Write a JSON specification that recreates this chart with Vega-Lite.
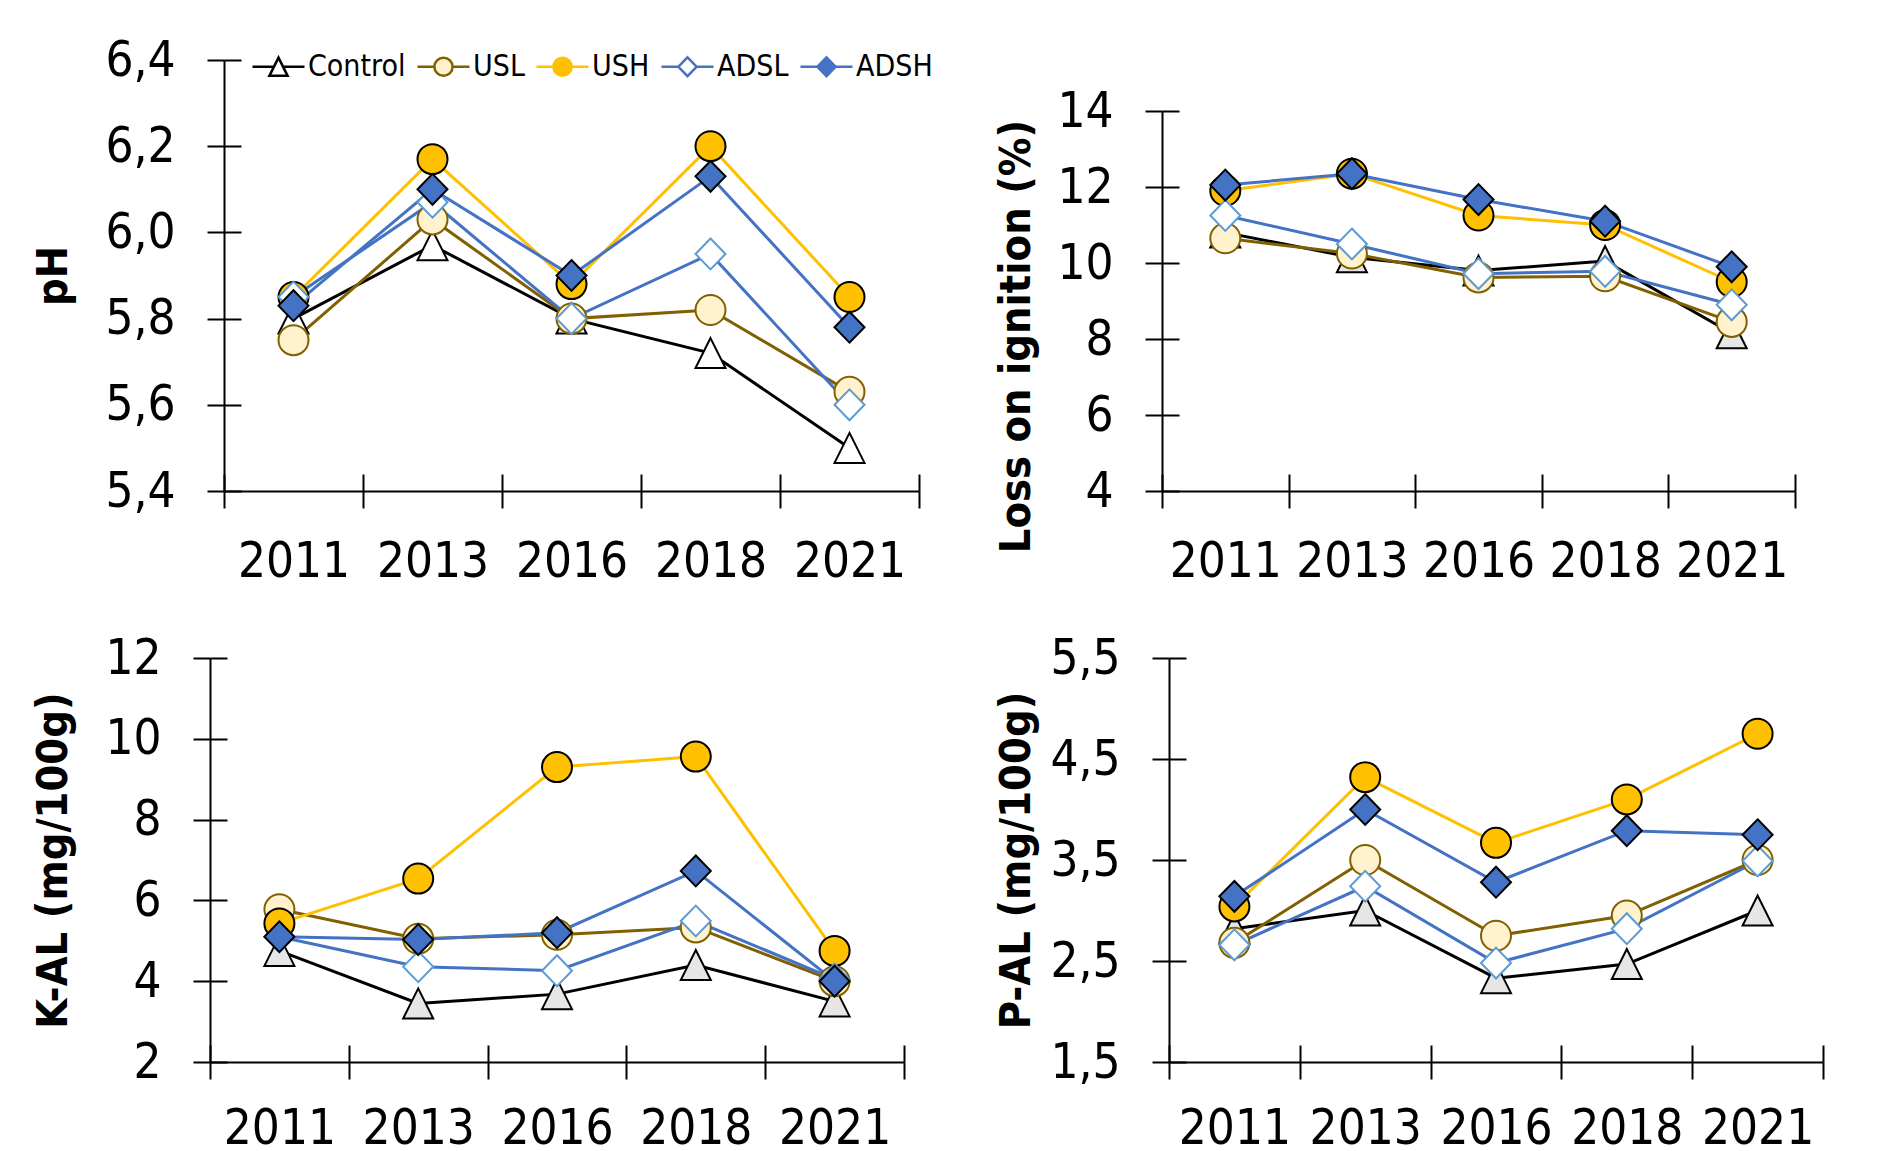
{
  "$schema": "https://vega.github.io/schema/vega-lite/v6.json",
  "background": "white",
  "padding": {"left": 32, "top": 36, "right": 5, "bottom": 5},
  "config": {
    "view": {"stroke": null},
    "axis": {"grid": false, "domainColor": "#000000", "domainWidth": 2, "tickColor": "#000000", "tickWidth": 2, "labelColor": "#000000", "labelFont": "DejaVu Sans Condensed, sans-serif", "labelFontSize": 49, "titleFont": "DejaVu Sans Condensed, DejaVu Sans", "titleFontSize": 43, "titleFontWeight": "bold", "titleColor": "#000000"}
  },
  "data": {"values": [
    {"p":"pH","year":"2011","s":"Control","v":5.80},{"p":"pH","year":"2013","s":"Control","v":5.97},{"p":"pH","year":"2016","s":"Control","v":5.80},{"p":"pH","year":"2018","s":"Control","v":5.72},{"p":"pH","year":"2021","s":"Control","v":5.50},
    {"p":"pH","year":"2011","s":"USL","v":5.75},{"p":"pH","year":"2013","s":"USL","v":6.03},{"p":"pH","year":"2016","s":"USL","v":5.80},{"p":"pH","year":"2018","s":"USL","v":5.82},{"p":"pH","year":"2021","s":"USL","v":5.63},
    {"p":"pH","year":"2011","s":"USH","v":5.85},{"p":"pH","year":"2013","s":"USH","v":6.17},{"p":"pH","year":"2016","s":"USH","v":5.88},{"p":"pH","year":"2018","s":"USH","v":6.20},{"p":"pH","year":"2021","s":"USH","v":5.85},
    {"p":"pH","year":"2011","s":"ADSL","v":5.85},{"p":"pH","year":"2013","s":"ADSL","v":6.07},{"p":"pH","year":"2016","s":"ADSL","v":5.80},{"p":"pH","year":"2018","s":"ADSL","v":5.95},{"p":"pH","year":"2021","s":"ADSL","v":5.60},
    {"p":"pH","year":"2011","s":"ADSH","v":5.83},{"p":"pH","year":"2013","s":"ADSH","v":6.10},{"p":"pH","year":"2016","s":"ADSH","v":5.90},{"p":"pH","year":"2018","s":"ADSH","v":6.13},{"p":"pH","year":"2021","s":"ADSH","v":5.78},
    {"p":"LOI","year":"2011","s":"Control","v":10.8},{"p":"LOI","year":"2013","s":"Control","v":10.15},{"p":"LOI","year":"2016","s":"Control","v":9.8},{"p":"LOI","year":"2018","s":"Control","v":10.05},{"p":"LOI","year":"2021","s":"Control","v":8.15},
    {"p":"LOI","year":"2011","s":"USL","v":10.65},{"p":"LOI","year":"2013","s":"USL","v":10.25},{"p":"LOI","year":"2016","s":"USL","v":9.62},{"p":"LOI","year":"2018","s":"USL","v":9.65},{"p":"LOI","year":"2021","s":"USL","v":8.45},
    {"p":"LOI","year":"2011","s":"USH","v":11.9},{"p":"LOI","year":"2013","s":"USH","v":12.35},{"p":"LOI","year":"2016","s":"USH","v":11.25},{"p":"LOI","year":"2018","s":"USH","v":11.0},{"p":"LOI","year":"2021","s":"USH","v":9.5},
    {"p":"LOI","year":"2011","s":"ADSL","v":11.25},{"p":"LOI","year":"2013","s":"ADSL","v":10.5},{"p":"LOI","year":"2016","s":"ADSL","v":9.72},{"p":"LOI","year":"2018","s":"ADSL","v":9.78},{"p":"LOI","year":"2021","s":"ADSL","v":8.9},
    {"p":"LOI","year":"2011","s":"ADSH","v":12.05},{"p":"LOI","year":"2013","s":"ADSH","v":12.35},{"p":"LOI","year":"2016","s":"ADSH","v":11.67},{"p":"LOI","year":"2018","s":"ADSH","v":11.1},{"p":"LOI","year":"2021","s":"ADSH","v":9.9},
    {"p":"K","year":"2011","s":"Control","v":4.75},{"p":"K","year":"2013","s":"Control","v":3.45},{"p":"K","year":"2016","s":"Control","v":3.68},{"p":"K","year":"2018","s":"Control","v":4.4},{"p":"K","year":"2021","s":"Control","v":3.5},
    {"p":"K","year":"2011","s":"USL","v":5.78},{"p":"K","year":"2013","s":"USL","v":5.05},{"p":"K","year":"2016","s":"USL","v":5.15},{"p":"K","year":"2018","s":"USL","v":5.33},{"p":"K","year":"2021","s":"USL","v":4.0},
    {"p":"K","year":"2011","s":"USH","v":5.43},{"p":"K","year":"2013","s":"USH","v":6.54},{"p":"K","year":"2016","s":"USH","v":9.3},{"p":"K","year":"2018","s":"USH","v":9.56},{"p":"K","year":"2021","s":"USH","v":4.75},
    {"p":"K","year":"2011","s":"ADSL","v":5.1},{"p":"K","year":"2013","s":"ADSL","v":4.36},{"p":"K","year":"2016","s":"ADSL","v":4.26},{"p":"K","year":"2018","s":"ADSL","v":5.49},{"p":"K","year":"2021","s":"ADSL","v":4.05},
    {"p":"K","year":"2011","s":"ADSH","v":5.1},{"p":"K","year":"2013","s":"ADSH","v":5.03},{"p":"K","year":"2016","s":"ADSH","v":5.2},{"p":"K","year":"2018","s":"ADSH","v":6.73},{"p":"K","year":"2021","s":"ADSH","v":4.0},
    {"p":"P","year":"2011","s":"Control","v":2.82},{"p":"P","year":"2013","s":"Control","v":3.0},{"p":"P","year":"2016","s":"Control","v":2.33},{"p":"P","year":"2018","s":"Control","v":2.47},{"p":"P","year":"2021","s":"Control","v":3.0},
    {"p":"P","year":"2011","s":"USL","v":2.68},{"p":"P","year":"2013","s":"USL","v":3.5},{"p":"P","year":"2016","s":"USL","v":2.75},{"p":"P","year":"2018","s":"USL","v":2.95},{"p":"P","year":"2021","s":"USL","v":3.5},
    {"p":"P","year":"2011","s":"USH","v":3.04},{"p":"P","year":"2013","s":"USH","v":4.32},{"p":"P","year":"2016","s":"USH","v":3.67},{"p":"P","year":"2018","s":"USH","v":4.1},{"p":"P","year":"2021","s":"USH","v":4.75},
    {"p":"P","year":"2011","s":"ADSL","v":2.66},{"p":"P","year":"2013","s":"ADSL","v":3.24},{"p":"P","year":"2016","s":"ADSL","v":2.48},{"p":"P","year":"2018","s":"ADSL","v":2.82},{"p":"P","year":"2021","s":"ADSL","v":3.49},
    {"p":"P","year":"2011","s":"ADSH","v":3.14},{"p":"P","year":"2013","s":"ADSH","v":4.0},{"p":"P","year":"2016","s":"ADSH","v":3.28},{"p":"P","year":"2018","s":"ADSH","v":3.79},{"p":"P","year":"2021","s":"ADSH","v":3.75}
  ]},
  "columns": 2,
  "spacing": {"row": 167, "column": 243},
  "bounds": "flush",
  "resolve": {"scale": {"color": "independent", "fill": "independent", "shape": "independent", "stroke": "independent"}},
  "concat": [
    {
      "width": 709, "height": 431,
      "transform": [{"filter": "datum.p === 'pH'"}],
      "resolve": {"axis": {"x": "independent", "y": "independent"}, "scale": {"shape": "independent", "fill": "independent", "stroke": "independent"}},
      "layer": [
        {"mark": {"type": "line", "strokeWidth": 3},
         "encoding": {
           "x": {"field": "year", "type": "ordinal", "bandPosition": 0.5, "scale": {"type": "band", "paddingInner": 0, "paddingOuter": 0, "range": [14, 709]}, "axis": {"title": null, "tickBand": "extent", "tickSize": 17, "labelAngle": 0, "labelPadding": 29}},
           "y": {"field": "v", "type": "quantitative", "scale": {"domain": [5.4, 6.4], "nice": false, "zero": false}, "axis": {"title": "pH", "values": [5.4, 5.6, 5.8, 6.0, 6.2, 6.4], "labelExpr": "replace(format(datum.value, '.1f'), '.', ',')", "tickSize": 17, "labelPadding": 32, "titlePadding": 29, "offset": -14}},
           "color": {"field": "s", "type": "nominal", "sort": ["Control", "USL", "USH", "ADSL", "ADSH"], "scale": {"range": ["#000000", "#806000", "#FFC000", "#4472C4", "#4472C4"]}, "legend": null}
         }},
        {"mark": {"type": "point", "filled": true, "opacity": 1, "size": 7347, "strokeWidth": 2},
         "encoding": {
           "x": {"field": "year", "type": "ordinal", "bandPosition": 0.5, "axis": {"orient": "bottom", "title": null, "labels": false, "domain": false, "tickBand": "extent", "tickSize": -17}},
           "y": {"field": "v", "type": "quantitative", "axis": {"orient": "left", "title": null, "labels": false, "domain": false, "values": [5.4, 5.6, 5.8, 6.0, 6.2, 6.4], "tickSize": -17, "offset": -14}},
           "shape": {"field": "s", "type": "nominal", "scale": {"domain": ["Control", "USL", "USH", "ADSL", "ADSH"], "range": ["M0,-0.35L0.35,0.35L-0.35,0.35Z", "M0.35,0A0.35,0.35,0,1,1,-0.35,0A0.35,0.35,0,1,1,0.35,0Z", "M0.35,0A0.35,0.35,0,1,1,-0.35,0A0.35,0.35,0,1,1,0.35,0Z", "M0,-0.36L0.35,0L0,0.36L-0.35,0Z", "M0,-0.36L0.35,0L0,0.36L-0.35,0Z"]}, "legend": null},
           "fill": {"field": "s", "type": "nominal", "scale": {"domain": ["Control", "USL", "USH", "ADSL", "ADSH"], "range": ["#FFFFFF", "#FFF2CC", "#FFC000", "#FFFFFF", "#4472C4"]}, "legend": null},
           "stroke": {"field": "s", "type": "nominal", "scale": {"domain": ["Control", "USL", "USH", "ADSL", "ADSH"], "range": ["#000000", "#806000", "#000000", "#5B9BD5", "#000000"]}, "legend": null}
         }},
        {"transform": [{"filter": "datum.v > 1000"}],
         "mark": {"type": "point", "filled": true, "opacity": 1, "strokeWidth": 2.5},
         "encoding": {
           "shape": {"field": "s", "type": "nominal", "scale": {"domain": ["Control", "USL", "USH", "ADSL", "ADSH"], "range": ["M-1,0H-0.175M0.175,0H1M0,-0.35L0.35,0.35L-0.35,0.35Z", "M-1,0H-0.35M0.35,0H1M0.35,0A0.35,0.35,0,1,1,-0.35,0A0.35,0.35,0,1,1,0.35,0Z", "M-1,0H-0.35M0.35,0H1M0.35,0A0.35,0.35,0,1,1,-0.35,0A0.35,0.35,0,1,1,0.35,0Z", "M-1,0H-0.35M0.35,0H1M0,-0.36L0.35,0L0,0.36L-0.35,0Z", "M-1,0H-0.35M0.35,0H1M0,-0.36L0.35,0L0,0.36L-0.35,0Z"]},
             "legend": {"orient": "none", "legendX": 41, "legendY": -21, "direction": "horizontal", "title": null, "symbolSize": 2704, "symbolStrokeWidth": 2.5, "labelFont": "DejaVu Sans Condensed, sans-serif", "labelFontSize": 30, "labelColor": "#000000", "labelOffset": 2, "columnPadding": 6, "padding": 0}},
           "fill": {"field": "s", "type": "nominal", "scale": {"domain": ["Control", "USL", "USH", "ADSL", "ADSH"], "range": ["#FFFFFF", "#FFF2CC", "#FFC000", "#FFFFFF", "#4472C4"]},
             "legend": {"orient": "none", "legendX": 41, "legendY": -21, "direction": "horizontal", "title": null, "symbolSize": 2704, "symbolStrokeWidth": 2.5, "labelFont": "DejaVu Sans Condensed, sans-serif", "labelFontSize": 30, "labelColor": "#000000", "labelOffset": 2, "columnPadding": 6, "padding": 0}},
           "stroke": {"field": "s", "type": "nominal", "scale": {"domain": ["Control", "USL", "USH", "ADSL", "ADSH"], "range": ["#000000", "#806000", "#FFC000", "#4472C4", "#4472C4"]},
             "legend": {"orient": "none", "legendX": 41, "legendY": -21, "direction": "horizontal", "title": null, "symbolSize": 2704, "symbolStrokeWidth": 2.5, "labelFont": "DejaVu Sans Condensed, sans-serif", "labelFontSize": 30, "labelColor": "#000000", "labelOffset": 2, "columnPadding": 6, "padding": 0}}
         }}
      ]
    },
    {
      "width": 633, "height": 431,
      "transform": [{"filter": "datum.p === 'LOI'"}],
      "resolve": {"axis": {"x": "independent", "y": "independent"}},
      "layer": [
        {"mark": {"type": "line", "strokeWidth": 3},
         "encoding": {
           "x": {"field": "year", "type": "ordinal", "bandPosition": 0.5, "scale": {"type": "band", "paddingInner": 0, "paddingOuter": 0}, "axis": {"title": null, "tickBand": "extent", "tickSize": 17, "labelAngle": 0, "labelPadding": 29}},
           "y": {"field": "v", "type": "quantitative", "scale": {"domain": [4, 14], "nice": false, "zero": false, "range": [431, 51]}, "axis": {"title": "Loss on ignition  (%)", "values": [4, 6, 8, 10, 12, 14], "format": "d", "tickSize": 17, "labelPadding": 32, "titlePadding": 18, "titleY": 276}},
           "color": {"field": "s", "type": "nominal", "sort": ["Control", "USL", "USH", "ADSL", "ADSH"], "scale": {"range": ["#000000", "#806000", "#FFC000", "#4472C4", "#4472C4"]}, "legend": null}
         }},
        {"mark": {"type": "point", "filled": true, "opacity": 1, "size": 7347, "strokeWidth": 2},
         "encoding": {
           "x": {"field": "year", "type": "ordinal", "bandPosition": 0.5, "axis": {"orient": "bottom", "title": null, "labels": false, "domain": false, "tickBand": "extent", "tickSize": -17}},
           "y": {"field": "v", "type": "quantitative", "axis": {"orient": "left", "title": null, "labels": false, "domain": false, "values": [4, 6, 8, 10, 12, 14], "tickSize": -17}},
           "shape": {"field": "s", "type": "nominal", "scale": {"domain": ["Control", "USL", "USH", "ADSL", "ADSH"], "range": ["M0,-0.35L0.35,0.35L-0.35,0.35Z", "M0.35,0A0.35,0.35,0,1,1,-0.35,0A0.35,0.35,0,1,1,0.35,0Z", "M0.35,0A0.35,0.35,0,1,1,-0.35,0A0.35,0.35,0,1,1,0.35,0Z", "M0,-0.36L0.35,0L0,0.36L-0.35,0Z", "M0,-0.36L0.35,0L0,0.36L-0.35,0Z"]}, "legend": null},
           "fill": {"field": "s", "type": "nominal", "scale": {"domain": ["Control", "USL", "USH", "ADSL", "ADSH"], "range": ["#E6E6E6", "#FFF2CC", "#FFC000", "#FFFFFF", "#4472C4"]}, "legend": null},
           "stroke": {"field": "s", "type": "nominal", "scale": {"domain": ["Control", "USL", "USH", "ADSL", "ADSH"], "range": ["#000000", "#806000", "#000000", "#5B9BD5", "#000000"]}, "legend": null}
         }}
      ]
    },
    {
      "width": 694, "height": 404,
      "transform": [{"filter": "datum.p === 'K'"}],
      "resolve": {"axis": {"x": "independent", "y": "independent"}},
      "layer": [
        {"mark": {"type": "line", "strokeWidth": 3},
         "encoding": {
           "x": {"field": "year", "type": "ordinal", "bandPosition": 0.5, "scale": {"type": "band", "paddingInner": 0, "paddingOuter": 0}, "axis": {"title": null, "tickBand": "extent", "tickSize": 17, "labelAngle": 0, "labelPadding": 25}},
           "y": {"field": "v", "type": "quantitative", "scale": {"domain": [2, 12], "nice": false, "zero": false}, "axis": {"title": "K-AL (mg/100g)", "values": [2, 4, 6, 8, 10, 12], "format": "d", "tickSize": 17, "labelPadding": 32, "titlePadding": 29}},
           "color": {"field": "s", "type": "nominal", "sort": ["Control", "USL", "USH", "ADSL", "ADSH"], "scale": {"range": ["#000000", "#806000", "#FFC000", "#4472C4", "#4472C4"]}, "legend": null}
         }},
        {"mark": {"type": "point", "filled": true, "opacity": 1, "size": 7347, "strokeWidth": 2},
         "encoding": {
           "x": {"field": "year", "type": "ordinal", "bandPosition": 0.5, "axis": {"orient": "bottom", "title": null, "labels": false, "domain": false, "tickBand": "extent", "tickSize": -17}},
           "y": {"field": "v", "type": "quantitative", "axis": {"orient": "left", "title": null, "labels": false, "domain": false, "values": [2, 4, 6, 8, 10, 12], "tickSize": -17}},
           "shape": {"field": "s", "type": "nominal", "scale": {"domain": ["Control", "USL", "USH", "ADSL", "ADSH"], "range": ["M0,-0.35L0.35,0.35L-0.35,0.35Z", "M0.35,0A0.35,0.35,0,1,1,-0.35,0A0.35,0.35,0,1,1,0.35,0Z", "M0.35,0A0.35,0.35,0,1,1,-0.35,0A0.35,0.35,0,1,1,0.35,0Z", "M0,-0.36L0.35,0L0,0.36L-0.35,0Z", "M0,-0.36L0.35,0L0,0.36L-0.35,0Z"]}, "legend": null},
           "fill": {"field": "s", "type": "nominal", "scale": {"domain": ["Control", "USL", "USH", "ADSL", "ADSH"], "range": ["#E6E6E6", "#FFF2CC", "#FFC000", "#FFFFFF", "#4472C4"]}, "legend": null},
           "stroke": {"field": "s", "type": "nominal", "scale": {"domain": ["Control", "USL", "USH", "ADSL", "ADSH"], "range": ["#000000", "#806000", "#000000", "#5B9BD5", "#000000"]}, "legend": null}
         }}
      ]
    },
    {
      "width": 661, "height": 404,
      "transform": [{"filter": "datum.p === 'P'"}],
      "resolve": {"axis": {"x": "independent", "y": "independent"}},
      "layer": [
        {"mark": {"type": "line", "strokeWidth": 3},
         "encoding": {
           "x": {"field": "year", "type": "ordinal", "bandPosition": 0.5, "scale": {"type": "band", "paddingInner": 0, "paddingOuter": 0, "range": [7, 661]}, "axis": {"title": null, "tickBand": "extent", "tickSize": 17, "labelAngle": 0, "labelPadding": 25}},
           "y": {"field": "v", "type": "quantitative", "scale": {"domain": [1.5, 5.5], "nice": false, "zero": false}, "axis": {"title": "P-AL (mg/100g)", "values": [1.5, 2.5, 3.5, 4.5, 5.5], "labelExpr": "replace(format(datum.value, '.1f'), '.', ',')", "tickSize": 17, "labelPadding": 32, "titlePadding": 11, "offset": -7}},
           "color": {"field": "s", "type": "nominal", "sort": ["Control", "USL", "USH", "ADSL", "ADSH"], "scale": {"range": ["#000000", "#806000", "#FFC000", "#4472C4", "#4472C4"]}, "legend": null}
         }},
        {"mark": {"type": "point", "filled": true, "opacity": 1, "size": 7347, "strokeWidth": 2},
         "encoding": {
           "x": {"field": "year", "type": "ordinal", "bandPosition": 0.5, "axis": {"orient": "bottom", "title": null, "labels": false, "domain": false, "tickBand": "extent", "tickSize": -17}},
           "y": {"field": "v", "type": "quantitative", "axis": {"orient": "left", "title": null, "labels": false, "domain": false, "values": [1.5, 2.5, 3.5, 4.5, 5.5], "tickSize": -17, "offset": -7}},
           "shape": {"field": "s", "type": "nominal", "scale": {"domain": ["Control", "USL", "USH", "ADSL", "ADSH"], "range": ["M0,-0.35L0.35,0.35L-0.35,0.35Z", "M0.35,0A0.35,0.35,0,1,1,-0.35,0A0.35,0.35,0,1,1,0.35,0Z", "M0.35,0A0.35,0.35,0,1,1,-0.35,0A0.35,0.35,0,1,1,0.35,0Z", "M0,-0.36L0.35,0L0,0.36L-0.35,0Z", "M0,-0.36L0.35,0L0,0.36L-0.35,0Z"]}, "legend": null},
           "fill": {"field": "s", "type": "nominal", "scale": {"domain": ["Control", "USL", "USH", "ADSL", "ADSH"], "range": ["#E6E6E6", "#FFF2CC", "#FFC000", "#FFFFFF", "#4472C4"]}, "legend": null},
           "stroke": {"field": "s", "type": "nominal", "scale": {"domain": ["Control", "USL", "USH", "ADSL", "ADSH"], "range": ["#000000", "#806000", "#000000", "#5B9BD5", "#000000"]}, "legend": null}
         }}
      ]
    }
  ]
}
